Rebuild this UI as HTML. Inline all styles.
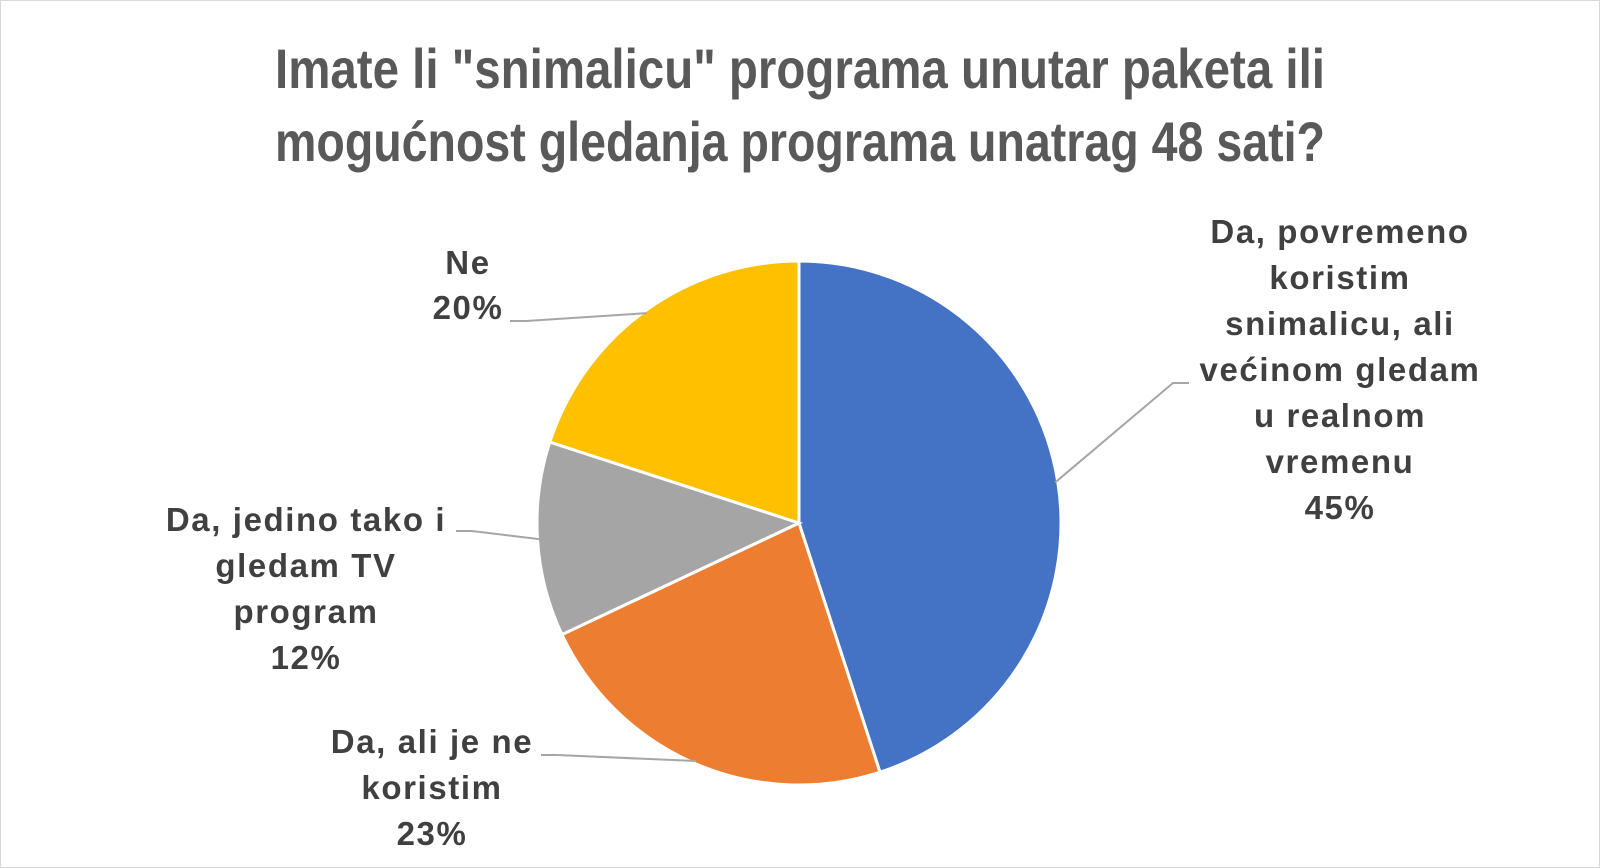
<!DOCTYPE html>
<html><head><meta charset="utf-8">
<style>
html,body{margin:0;padding:0;background:#fff;}
svg{display:block;}
.t{font-family:"Liberation Sans Narrow","Liberation Sans",sans-serif;font-weight:bold;fill:#595959;font-size:56px;}
.l{font-family:"Liberation Sans",sans-serif;font-weight:bold;fill:#404040;font-size:33px;letter-spacing:1.6px;}
</style></head>
<body>
<svg id="chart" width="1600" height="868" viewBox="0 0 1600 868">
<rect x="0.5" y="0.5" width="1599" height="867" fill="#fff" stroke="#d9d9d9"/>
<text class="t" x="800" y="88" text-anchor="middle" textLength="1050" lengthAdjust="spacingAndGlyphs">Imate li "snimalicu" programa unutar paketa ili</text>
<text class="t" x="800" y="161" text-anchor="middle" textLength="1050" lengthAdjust="spacingAndGlyphs">mogućnost gledanja programa unatrag 48 sati?</text>
<g id="slices"></g>
<g id="labels"></g>
</svg>
<script>
const categories=["Da, povremeno koristim snimalicu, ali većinom gledam u realnom vremenu","Da, ali je ne koristim","Da, jedino tako i gledam TV program","Ne"];
const values=[45,23,12,20];
const colors=["#4472c4","#ed7d31","#a5a5a5","#ffc000"];
const labelLines=[["Da, povremeno","koristim","snimalicu, ali","većinom gledam","u realnom","vremenu"],["Da, ali je ne","koristim"],["Da, jedino tako i","gledam TV","program"],["Ne"]];
const cx=799,cy=523,r=262;
const NS="http://www.w3.org/2000/svg";
const total=values.reduce((a,b)=>a+b,0);
const gS=document.getElementById('slices'),gL=document.getElementById('labels');
function pt(a,rr){return [cx+rr*Math.sin(a),cy-rr*Math.cos(a)];}
let acc=0;
const labelPos=[{x:1340,y:243,dy:46,lx:1189,ly:383},{x:432,y:753,dy:46,lx:541,ly:755},{x:306,y:531,dy:46,lx:456,ly:531},{x:468,y:274,dy:45,lx:510,ly:321}];
values.forEach((v,i)=>{
  const a0=acc/total*2*Math.PI; acc+=v; const a1=acc/total*2*Math.PI;
  const p0=pt(a0,r),p1=pt(a1,r);
  const path=document.createElementNS(NS,'path');
  path.setAttribute('d',`M${cx},${cy}L${p0[0]},${p0[1]}A${r},${r} 0 ${a1-a0>Math.PI?1:0} 1 ${p1[0]},${p1[1]}Z`);
  path.setAttribute('fill',colors[i]);path.setAttribute('stroke','#fff');path.setAttribute('stroke-width','3');
  
  
  gS.appendChild(path);
  const am=(a0+a1)/2, e=pt(am,r*0.99), L=labelPos[i];
  const pl=document.createElementNS(NS,'polyline');
  const mx=L.lx+(L.lx>cx?-16:16);
  pl.setAttribute('points',`${e[0]},${e[1]} ${mx},${L.ly} ${L.lx},${L.ly}`);
  pl.setAttribute('fill','none');pl.setAttribute('stroke','#a6a6a6');pl.setAttribute('stroke-width','2');
  
  
  gL.appendChild(pl);
  const t=document.createElementNS(NS,'text');
  t.setAttribute('class','l');t.setAttribute('text-anchor','middle');
  
  
  const lines=labelLines[i].concat([v+'%']);
  lines.forEach((s,j)=>{const ts=document.createElementNS(NS,'tspan');ts.setAttribute('x',L.x);ts.setAttribute('y',L.y+j*L.dy);ts.textContent=s;t.appendChild(ts);});
  gL.appendChild(t);
});
</script>
</body></html>
